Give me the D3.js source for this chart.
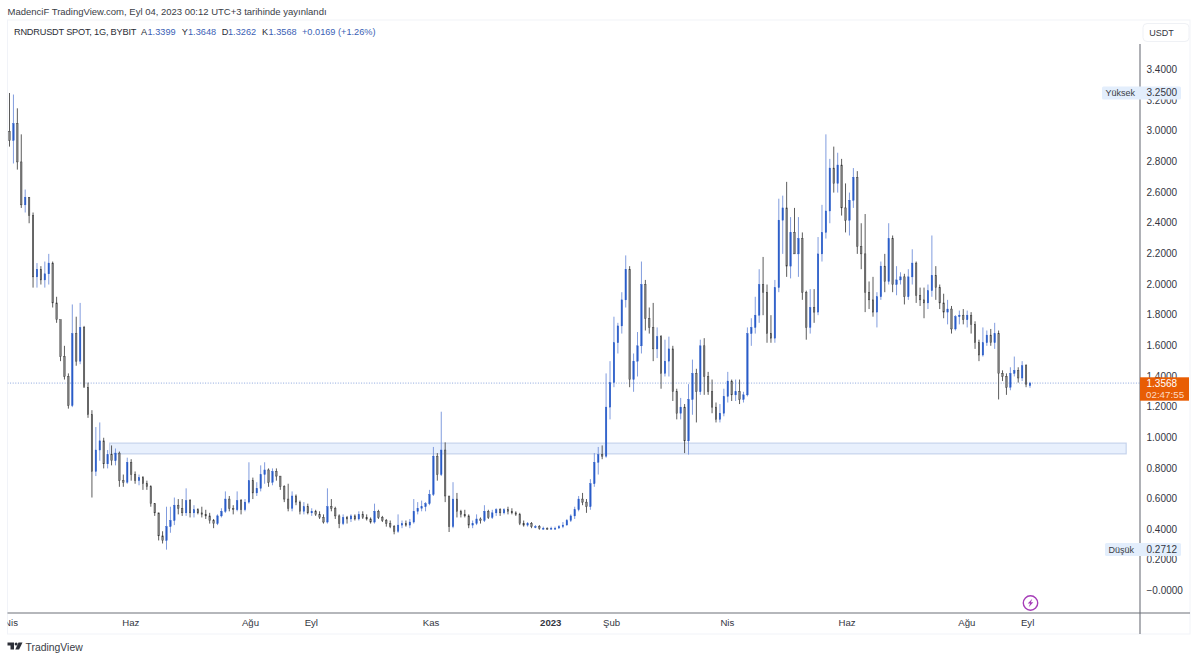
<!DOCTYPE html>
<html><head><meta charset="utf-8">
<script src="https://cdn.jsdelivr.net/npm/d3@7/dist/d3.min.js"></script>
<style>html,body{margin:0;padding:0;background:#fff}svg{display:block}text{font-family:"Liberation Sans",Arial,sans-serif}</style>
</head><body><svg id="c" width="1200" height="660"></svg>
<script>
// two-day candles, first one 2022-04-02
const firstDay = "2022-04-02";
const opens = [3.00,2.94,3.05,2.80,2.52,2.57,2.45,2.05,2.10,2.03,2.07,2.14,1.88,1.77,1.53,1.40,1.21,1.68,1.50,1.72,1.33,1.15,0.78,0.92,0.98,0.83,0.89,0.85,0.90,0.72,0.71,0.84,0.76,0.72,0.74,0.70,0.68,0.57,0.51,0.36,0.33,0.42,0.46,0.56,0.54,0.51,0.59,0.51,0.53,0.51,0.50,0.49,0.46,0.44,0.49,0.52,0.60,0.54,0.53,0.59,0.53,0.58,0.72,0.64,0.67,0.76,0.79,0.71,0.78,0.75,0.68,0.60,0.54,0.62,0.58,0.52,0.55,0.51,0.52,0.50,0.48,0.45,0.55,0.54,0.49,0.44,0.48,0.47,0.49,0.47,0.50,0.48,0.47,0.45,0.52,0.48,0.46,0.44,0.42,0.39,0.43,0.44,0.43,0.45,0.52,0.54,0.55,0.57,0.63,0.88,0.76,0.92,0.62,0.42,0.60,0.52,0.50,0.49,0.43,0.44,0.47,0.46,0.52,0.48,0.51,0.53,0.51,0.53,0.52,0.51,0.50,0.44,0.43,0.44,0.42,0.42,0.41,0.41,0.405,0.41,0.41,0.42,0.43,0.46,0.49,0.53,0.60,0.58,0.55,0.70,0.84,0.89,0.88,1.20,1.36,1.62,1.73,1.90,2.10,1.38,1.50,1.60,2.00,1.78,1.72,1.58,1.66,1.42,1.50,1.58,1.30,1.16,1.20,0.98,1.25,1.42,1.30,1.60,1.40,1.30,1.20,1.12,1.16,1.27,1.37,1.28,1.30,1.25,1.28,1.68,1.72,1.80,2.00,1.95,1.68,1.65,1.98,2.42,2.50,2.12,2.34,2.20,2.30,1.95,1.72,1.85,1.82,2.20,2.34,2.48,2.76,2.66,2.78,2.50,2.42,2.55,2.70,2.25,2.20,1.95,1.90,1.82,1.92,2.12,2.02,2.30,2.00,2.03,2.05,1.92,2.05,2.14,1.93,1.90,1.88,1.96,2.06,1.98,1.88,1.82,1.84,1.71,1.79,1.80,1.77,1.80,1.74,1.62,1.54,1.62,1.67,1.62,1.68,1.42,1.40,1.33,1.42,1.44,1.39,1.47,1.3399];
const highs = [3.25,3.24,3.15,2.98,2.62,2.57,2.47,2.14,2.12,2.15,2.20,2.15,1.92,1.77,1.60,1.42,1.87,1.79,1.88,1.73,1.36,1.18,1.07,1.10,1.00,0.92,0.95,0.93,0.91,0.76,0.87,0.86,0.78,0.76,0.75,0.72,0.69,0.57,0.51,0.39,0.55,0.55,0.61,0.60,0.60,0.67,0.60,0.56,0.54,0.55,0.53,0.51,0.47,0.50,0.54,0.65,0.62,0.56,0.65,0.60,0.60,0.84,0.74,0.71,0.82,0.84,0.80,0.80,0.80,0.75,0.69,0.70,0.65,0.63,0.59,0.58,0.57,0.54,0.53,0.52,0.50,0.67,0.60,0.55,0.50,0.50,0.49,0.50,0.50,0.52,0.52,0.50,0.48,0.57,0.53,0.49,0.47,0.46,0.43,0.50,0.46,0.46,0.47,0.60,0.58,0.59,0.58,0.66,0.94,0.90,1.17,0.97,0.62,0.71,0.64,0.53,0.53,0.50,0.46,0.50,0.48,0.56,0.53,0.53,0.54,0.54,0.54,0.55,0.54,0.52,0.51,0.46,0.45,0.45,0.43,0.43,0.42,0.415,0.42,0.42,0.43,0.45,0.47,0.50,0.55,0.62,0.64,0.60,0.73,0.90,0.94,0.95,1.42,1.50,1.79,1.75,1.95,2.19,2.12,1.55,1.69,2.15,2.03,1.85,1.88,1.72,1.67,1.64,1.66,1.60,1.32,1.26,1.22,1.35,1.51,1.45,1.64,1.65,1.43,1.38,1.23,1.22,1.32,1.43,1.38,1.38,1.38,1.30,1.72,1.78,1.92,2.10,2.18,2.00,1.80,2.03,2.56,2.58,2.67,2.44,2.50,2.44,2.34,1.96,1.97,1.97,2.31,2.52,2.98,2.82,2.90,2.86,2.82,2.66,2.60,2.76,2.74,2.40,2.46,2.02,2.05,1.95,2.15,2.20,2.40,2.32,2.12,2.08,2.07,2.10,2.23,2.15,1.98,1.98,2.00,2.32,2.12,2.00,1.94,1.90,1.86,1.80,1.83,1.84,1.83,1.82,1.76,1.64,1.72,1.70,1.71,1.75,1.70,1.44,1.42,1.46,1.53,1.46,1.50,1.48,1.3648];
const lows = [2.90,2.79,2.75,2.50,2.47,2.40,1.98,1.98,2.00,1.98,2.00,1.85,1.75,1.50,1.38,1.19,1.20,1.47,1.48,1.34,1.13,0.61,0.75,0.85,0.80,0.80,0.82,0.82,0.68,0.68,0.70,0.72,0.70,0.69,0.66,0.66,0.55,0.49,0.33,0.31,0.27,0.38,0.43,0.50,0.49,0.49,0.48,0.48,0.50,0.48,0.47,0.44,0.41,0.43,0.48,0.51,0.52,0.50,0.52,0.50,0.52,0.57,0.60,0.62,0.65,0.70,0.68,0.69,0.72,0.66,0.58,0.52,0.52,0.56,0.50,0.50,0.50,0.49,0.49,0.47,0.44,0.44,0.52,0.47,0.41,0.43,0.44,0.45,0.46,0.46,0.47,0.46,0.44,0.44,0.47,0.45,0.42,0.41,0.37,0.38,0.41,0.42,0.41,0.44,0.50,0.52,0.52,0.56,0.62,0.72,0.75,0.58,0.385,0.41,0.48,0.48,0.48,0.41,0.41,0.43,0.44,0.45,0.47,0.47,0.49,0.49,0.50,0.50,0.50,0.49,0.43,0.42,0.42,0.41,0.41,0.40,0.40,0.40,0.40,0.40,0.41,0.41,0.43,0.45,0.47,0.52,0.56,0.51,0.53,0.68,0.76,0.86,0.87,1.12,1.33,1.55,1.68,1.85,1.33,1.30,1.40,1.55,1.70,1.68,1.50,1.52,1.32,1.40,1.40,1.24,1.12,1.12,0.90,0.89,1.15,1.10,1.28,1.28,1.28,1.16,1.10,1.10,1.14,1.23,1.24,1.24,1.22,1.23,1.27,1.60,1.68,1.75,1.80,1.62,1.62,1.62,1.95,2.20,2.05,2.04,2.20,2.05,1.90,1.64,1.68,1.75,1.80,2.15,2.30,2.40,2.60,2.60,2.45,2.34,2.32,2.50,2.20,2.10,1.82,1.84,1.79,1.72,1.90,1.95,2.00,1.95,1.93,2.00,1.87,1.90,2.00,1.88,1.86,1.78,1.84,1.92,1.90,1.84,1.78,1.74,1.68,1.70,1.74,1.74,1.72,1.68,1.58,1.50,1.53,1.60,1.60,1.58,1.25,1.37,1.28,1.31,1.40,1.36,1.37,1.33,1.3262];
const closes = [2.94,3.05,2.80,2.52,2.57,2.45,2.05,2.10,2.03,2.07,2.14,1.88,1.77,1.53,1.40,1.21,1.68,1.50,1.72,1.33,1.15,0.78,0.92,0.98,0.83,0.89,0.85,0.90,0.72,0.71,0.84,0.76,0.72,0.74,0.70,0.68,0.57,0.51,0.36,0.33,0.42,0.46,0.56,0.54,0.51,0.59,0.51,0.53,0.51,0.50,0.49,0.46,0.44,0.49,0.52,0.60,0.54,0.53,0.59,0.53,0.58,0.72,0.64,0.67,0.76,0.79,0.71,0.78,0.75,0.68,0.60,0.54,0.62,0.58,0.52,0.55,0.51,0.52,0.50,0.48,0.45,0.55,0.54,0.49,0.44,0.48,0.47,0.49,0.47,0.50,0.48,0.47,0.45,0.52,0.48,0.46,0.44,0.42,0.39,0.43,0.44,0.43,0.45,0.52,0.54,0.55,0.57,0.63,0.88,0.76,0.92,0.62,0.42,0.60,0.52,0.50,0.49,0.43,0.44,0.47,0.46,0.52,0.48,0.51,0.53,0.51,0.53,0.52,0.51,0.50,0.44,0.43,0.44,0.42,0.42,0.41,0.41,0.405,0.41,0.41,0.42,0.43,0.46,0.49,0.53,0.60,0.58,0.55,0.70,0.84,0.89,0.88,1.20,1.36,1.62,1.73,1.90,2.10,1.38,1.50,1.60,2.00,1.78,1.72,1.58,1.66,1.42,1.50,1.58,1.30,1.16,1.20,0.98,1.25,1.42,1.30,1.60,1.40,1.30,1.20,1.12,1.16,1.27,1.37,1.28,1.30,1.25,1.28,1.68,1.72,1.80,2.00,1.95,1.68,1.65,1.98,2.42,2.50,2.12,2.34,2.20,2.30,1.95,1.72,1.85,1.82,2.20,2.34,2.48,2.76,2.66,2.78,2.50,2.42,2.55,2.70,2.25,2.20,1.95,1.90,1.82,1.92,2.12,2.02,2.30,2.00,2.03,2.05,1.92,2.05,2.14,1.93,1.90,1.88,1.96,2.06,1.98,1.88,1.82,1.84,1.71,1.79,1.80,1.77,1.80,1.74,1.62,1.54,1.62,1.67,1.62,1.68,1.42,1.40,1.33,1.42,1.44,1.39,1.47,1.35,1.3568];

const priceTicks = [3.4,3.2,3.0,2.8,2.6,2.4,2.2,2.0,1.8,1.6,1.4,1.2,1.0,0.8,0.6,0.4,0.2,0];
const timeTickDates = ["2022-04-01","2022-06-01","2022-08-01","2022-09-01","2022-11-01","2023-01-01","2023-02-01","2023-04-01","2023-06-01","2023-08-01","2023-09-01"];
const timeTickLabels = ["Nis","Haz","Ağu","Eyl","Kas","2023","Şub","Nis","Haz","Ağu","Eyl"];
const zoneLow = 0.895, zoneHigh = 0.965, zoneFrom = "2022-05-23", zoneTo = "2023-10-23";
const allHigh = 3.25, allLow = 0.2712, lastPrice = 1.3568;

const DAY = 864e5, parse = d3.utcParse("%Y-%m-%d"), t0 = parse(firstDay);
const dates = closes.map((_, i) => new Date(+t0 + i * 2 * DAY));

const svg = d3.select("#c");
const x = d3.scaleUtc().domain([t0, parse("2023-09-04")]).range([9.5, 1030]);
const y = d3.scaleLinear().domain([0, 3.4]).range([591, 70]);
const clipL = 7.5, axisX = 1140, axisY = 613, frameR = 1190, frameB = 634, frameT = 20;
const ink = "#33363f", upCol = "#2a5cc8", upWick = "#7391da", downFill = "#7f7f7f", downWick = "#4a4a4a";

const defs = svg.append("defs");
defs.append("clipPath").attr("id", "plot").append("rect").attr("x", clipL).attr("y", frameT).attr("width", axisX - clipL).attr("height", axisY - frameT);
defs.append("clipPath").attr("id", "tclip").append("rect").attr("x", clipL).attr("y", 0).attr("width", axisX - clipL).attr("height", 22);

// frame
svg.append("rect").attr("x", clipL).attr("y", frameT).attr("width", frameR - clipL).attr("height", frameB - frameT).attr("fill", "#fff").attr("stroke", "#f1f3f8");

// header
svg.append("text").attr("x", 7.5).attr("y", 15).attr("font-size", 9.5).attr("fill", "#3a3d46").text("MadenciF TradingView.com, Eyl 04, 2023 00:12 UTC+3 tarihinde yayınlandı");
const legendX = [14, 141, 147.5, 181.7, 188, 221.7, 228, 262, 268.5, 302];
const legendParts = [["RNDRUSDT SPOT, 1G, BYBIT",0],["A",0],["1.3399",1],["Y",0],["1.3648",1],["D",0],["1.3262",1],["K",0],["1.3568",1],["+0.0169 (+1.26%)",1]];
svg.append("text").attr("y", 35.2).attr("font-size", 9.2).selectAll("tspan").data(legendParts).join("tspan")
  .attr("x", (d, i) => legendX[i]).attr("letter-spacing", (d, i) => i === 0 ? -0.2 : 0)
  .attr("fill", d => d[1] ? "#3b5fb5" : "#2a2d35").text(d => d[0]);

const plot = svg.append("g").attr("clip-path", "url(#plot)");

// support zone
plot.append("rect").attr("x", x(parse(zoneFrom))).attr("width", x(parse(zoneTo)) - x(parse(zoneFrom)))
  .attr("y", y(zoneHigh)).attr("height", y(zoneLow) - y(zoneHigh))
  .attr("fill", "#e8f0fd").attr("stroke", "#c6d3ec").attr("stroke-width", 1.2);

// last price line
plot.append("line").attr("x1", clipL).attr("x2", axisX).attr("y1", y(lastPrice)).attr("y2", y(lastPrice))
  .attr("stroke", "#8ba5dd").attr("stroke-dasharray", "1 1.6").attr("stroke-width", 1);

// candles
const idx = d3.range(closes.length);
const bw = 1.5;
const c = plot.append("g").selectAll("g").data(idx).join("g");
c.append("line").attr("x1", i => x(dates[i])).attr("x2", i => x(dates[i]))
  .attr("y1", i => y(highs[i])).attr("y2", i => y(lows[i]))
  .attr("stroke", i => closes[i] >= opens[i] ? upWick : downWick).attr("stroke-width", 0.9);
c.append("rect").attr("x", i => x(dates[i]) - bw / 2).attr("width", bw)
  .attr("y", i => y(Math.max(opens[i], closes[i])))
  .attr("height", i => Math.max(1, Math.abs(y(opens[i]) - y(closes[i]))))
  .attr("fill", i => closes[i] >= opens[i] ? upCol : downFill)
  .attr("stroke", i => closes[i] >= opens[i] ? upCol : "#333").attr("stroke-width", 0.4);

// axes
const axisFont = '"Liberation Sans",Arial,sans-serif';
const yAxis = d3.axisRight(y).tickValues(priceTicks).tickSize(0).tickPadding(6.5)
  .tickFormat(v => (v === 0 ? "\u2212" : "") + d3.format(".4f")(v));
const gy = svg.append("g").attr("transform", `translate(${axisX},-0.6)`).call(yAxis);
gy.select(".domain").remove();
gy.selectAll("text").attr("font-size", 10).attr("fill", ink).style("font-family", axisFont);
svg.append("line").attr("x1", axisX).attr("x2", axisX).attr("y1", 44).attr("y2", frameB).attr("stroke", "#6d7079").attr("stroke-width", 1.1);

const xAxis = d3.axisBottom(x).tickValues(timeTickDates.map(parse)).tickSize(0).tickPadding(6)
  .tickFormat((d, i) => timeTickLabels[i]);
const gx = svg.append("g").attr("transform", `translate(0,${axisY})`).attr("clip-path", "url(#tclip)").append("g").call(xAxis);
gx.select(".domain").remove();
gx.selectAll("text").attr("dx", 3).attr("font-size", 9.6).attr("fill", ink).style("font-family", axisFont)
  .attr("font-weight", (d, i) => timeTickLabels[i] === "2023" ? "bold" : "normal");
svg.append("line").attr("x1", clipL).attr("x2", frameR).attr("y1", axisY).attr("y2", axisY).attr("stroke", "#6d7079").attr("stroke-width", 1.1);

// currency box
svg.append("rect").attr("x", 1143).attr("y", 23.5).attr("width", 46).attr("height", 18).attr("rx", 4).attr("fill", "#fff").attr("stroke", "#eff1f5");
svg.append("text").attr("x", 1161.5).attr("y", 36).attr("text-anchor", "middle").attr("font-size", 9).attr("fill", ink).text("USDT");

// high / low labels
[["Yüksek", allHigh, 1102], ["Düşük", allLow, 1105]].forEach(([name, v, left]) => {
  const yy = y(v);
  svg.append("rect").attr("x", left).attr("y", yy - 6.5).attr("width", 1181 - left).attr("height", 13).attr("rx", 1.5).attr("fill", "#e3eefc");
  svg.append("text").attr("x", left + 3.5).attr("y", yy + 3.2).attr("font-size", 9).attr("fill", "#3a3d46").text(name);
  svg.append("text").attr("x", 1146.5).attr("y", yy + 3.2).attr("font-size", 10).attr("fill", ink).text(d3.format(".4f")(v));
});

// last price label
svg.append("rect").attr("x", axisX).attr("y", 377.3).attr("width", 49).attr("height", 23.4).attr("fill", "#e85d04");
svg.append("text").attr("x", 1146.5).attr("y", 387.2).attr("font-size", 10).attr("fill", "#fff").text(d3.format(".4f")(lastPrice));
svg.append("text").attr("x", 1146).attr("y", 397.6).attr("font-size", 9.8).attr("fill", "#fbd9c3").text("02:47:55");

// lightning icon
const ic = svg.append("g").attr("transform", "translate(1030.5,603)");
ic.append("circle").attr("r", 7.2).attr("fill", "#fff").attr("stroke", "#a63db8").attr("stroke-width", 1.4);
ic.append("path").attr("d", "M1.8,-4.2 L-2.8,0.6 L-0.4,0.6 L-1.8,4.2 L2.8,-0.8 L0.4,-0.8 Z").attr("fill", "#a63db8");

// TradingView logo
const lg = svg.append("g").attr("transform", "translate(7.5,642.5)").attr("fill", "#2c2f38");
lg.append("path").attr("d", "M0,0 H6.5 V7 H3 V3 H0 Z");
lg.append("circle").attr("cx", 8.6).attr("cy", 1.5).attr("r", 1.5);
lg.append("path").attr("d", "M11,0 H15 L11.6,7 H7.8 Z");
svg.append("text").attr("x", 25.5).attr("y", 650.5).attr("font-size", 10.4).attr("fill", "#3a3d46").text("TradingView");
</script></body></html>
